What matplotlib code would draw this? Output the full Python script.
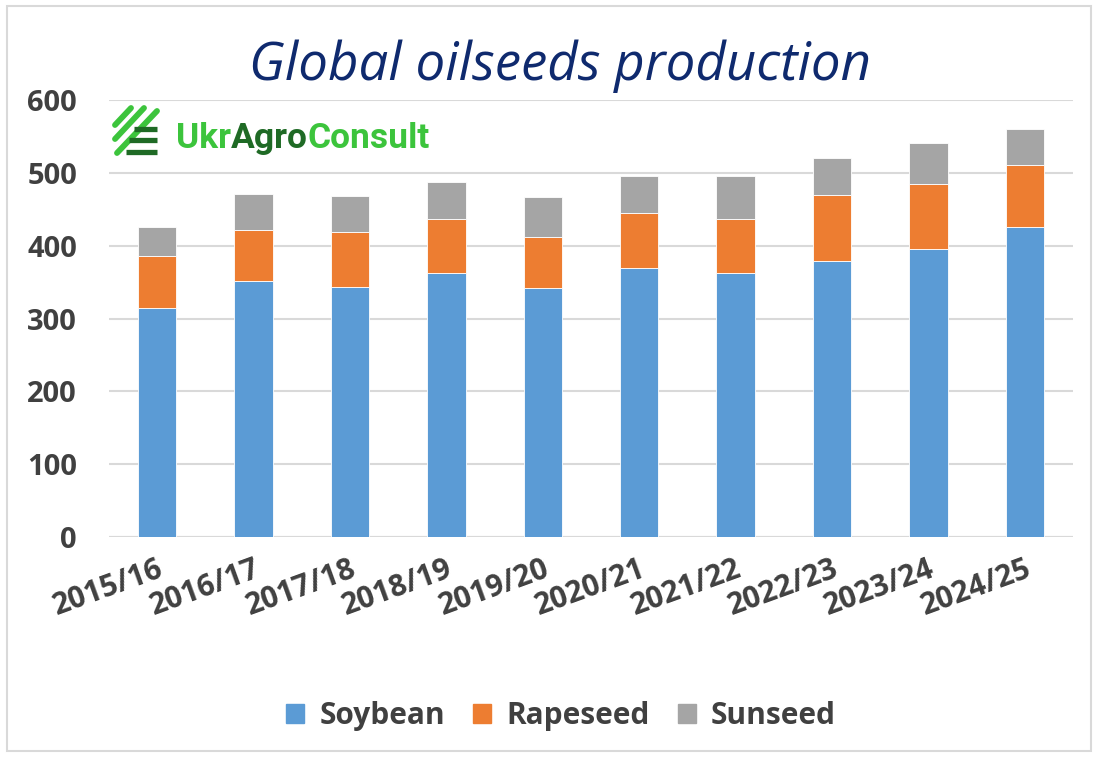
import numpy as np
import matplotlib
matplotlib.use('Agg')
import matplotlib.pyplot as plt
from matplotlib.patches import Rectangle, Patch

plt.rcParams['font.family'] = ['Open Sans', 'DejaVu Sans']

seasons = ['2015/16', '2016/17', '2017/18', '2018/19', '2019/20',
           '2020/21', '2021/22', '2022/23', '2023/24', '2024/25']
soybean = [315, 351, 343, 363, 342, 370, 362, 379, 395, 425]
rapeseed = [71, 70, 76, 74, 70, 75, 75, 90, 90, 86]
sunseed = [40, 50, 49, 51, 55, 50, 58, 52, 56, 49]

colors = ['#5b9bd5', '#ed7d31', '#a5a5a5']
txt_color = '#404040'

W, H = 1099, 757
fig = plt.figure(figsize=(W / 100, H / 100), dpi=100)
fig.patches.append(Rectangle((7 / W, 1 - 751 / H), 1084 / W, 745 / H,
                             transform=fig.transFigure, fill=False,
                             edgecolor='#d9d9d9', lw=1.5))

ax = fig.add_axes([109 / W, 1 - 537 / H, 964 / W, 437 / H])
x = np.arange(len(seasons))
soy = np.array(soybean)
rape = np.array(rapeseed)
sun = np.array(sunseed)
ax.bar(x, soy, width=0.4, color=colors[0], edgecolor='white', lw=0.6, zorder=3)
ax.bar(x, rape, width=0.4, bottom=soy, color=colors[1], edgecolor='white', lw=0.6, zorder=3)
ax.bar(x, sun, width=0.4, bottom=soy + rape, color=colors[2], edgecolor='white', lw=0.6, zorder=3)

ax.set_xlim(-0.5, len(seasons) - 0.5)
ax.set_ylim(0, 600)
ax.set_yticks(range(0, 601, 100))
ax.grid(axis='y', color='#d9d9d9', lw=1.5, zorder=0)
for s in ax.spines.values():
    s.set_visible(False)
ax.axhline(0, color='#d9d9d9', lw=1.5, zorder=1)
ax.tick_params(length=0)
ax.tick_params(axis='y', pad=23)
ax.tick_params(axis='x', pad=12)
ax.set_xticks(x)
ax.set_xticklabels(seasons, rotation=20, ha='right', rotation_mode='anchor')
for lab in ax.get_xticklabels():
    lab.set_fontsize(21.5)
for lab in ax.get_yticklabels():
    lab.set_fontsize(21)
for lab in ax.get_xticklabels() + ax.get_yticklabels():
    lab.set_fontweight('bold')
    lab.set_color(txt_color)

fig.text(560 / W, 1 - 66 / H, 'Global oilseeds production', fontsize=38,
         style='italic', color='#0f2a6e', ha='center', va='center')

handles = [Patch(color=c) for c in colors]
leg = fig.legend(handles, ['Soybean', 'Rapeseed', 'Sunseed'], loc='center',
                 bbox_to_anchor=(561 / W, 1 - 716 / H), ncol=3, frameon=False,
                 handlelength=0.6, handleheight=0.6, handletextpad=0.5,
                 columnspacing=0.95, prop={'size': 21.5, 'weight': 'bold'})
for t in leg.get_texts():
    t.set_color(txt_color)

# logo
light_g = '#3cc43c'
dark_g = '#1f6a25'
lax = fig.add_axes([108 / W, 1 - 160 / H, 55 / W, 60 / H])
lax.set_xlim(108, 163)
lax.set_ylim(160, 100)
lax.axis('off')
for x0, y0, x1, y1 in [(115, 125, 131, 108), (115, 139, 144, 108), (117, 153, 157, 111)]:
    lax.plot([x0, x1], [y0, y1], color=light_g, lw=4.2, solid_capstyle='round')
for y0, x0 in [(129, 134), (140, 129), (152, 126)]:
    lax.plot([x0, 157], [y0, y0], color=dark_g, lw=3.8, solid_capstyle='butt')

fig.canvas.draw()
r = fig.canvas.get_renderer()
xpos = 176
for part, c in [('Ukr', light_g), ('Agro', dark_g), ('Consult', light_g)]:
    t = fig.text(xpos / W, 1 - 148 / H, part, fontsize=25.5, fontweight='bold',
                 family=['Roboto', 'DejaVu Sans'], color=c, ha='left', va='baseline')
    bb = t.get_window_extent(renderer=r)
    xpos += bb.width

fig.savefig('out.png', dpi=100)
